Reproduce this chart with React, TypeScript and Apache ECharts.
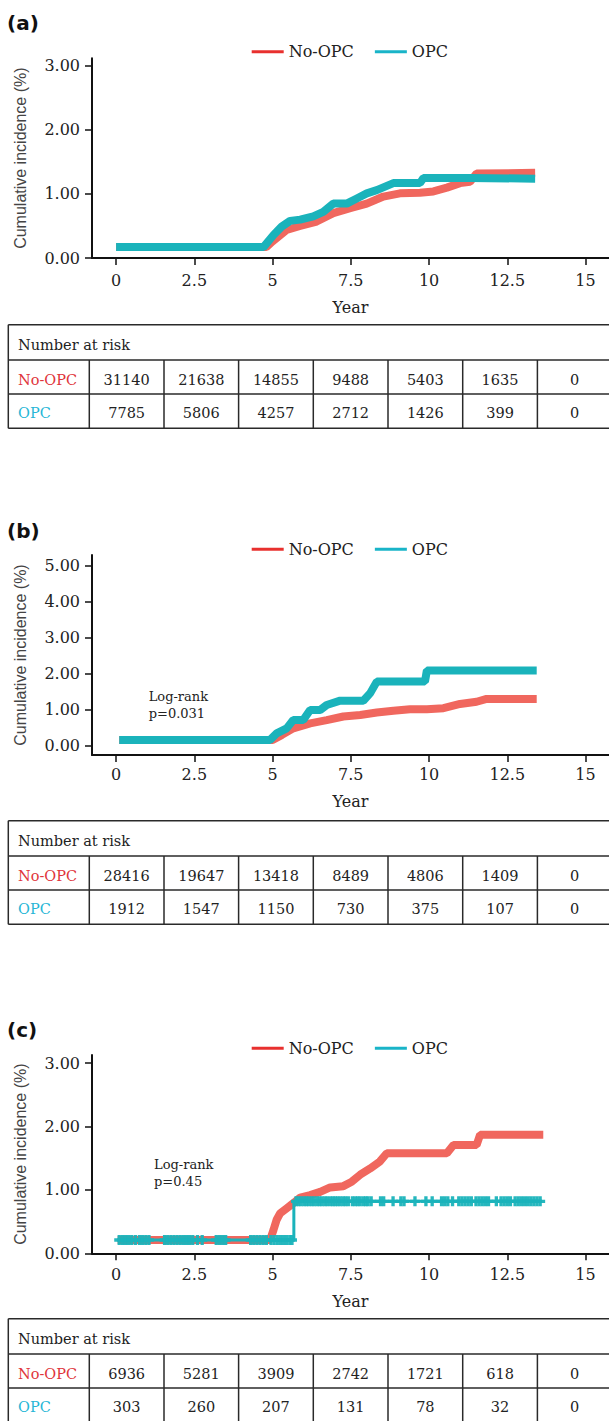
import React, { useEffect, useRef } from "react";
import * as echarts from "echarts";

// ---------- tick labels ----------
const xTicks = [0, 2.5, 5, 7.5, 10, 12.5, 15];
const yTicksA = [0, 1, 2, 3];
const yTicksB = [0, 1, 2, 3, 4, 5];
const yTicksC = [0, 1, 2, 3];

// ---------- series values [year, cumulative incidence %] ----------
const noOpcA = [[0, 0.17], [4.8, 0.17], [5.0, 0.26], [5.45, 0.44], [5.88, 0.5], [6.41, 0.57], [6.94, 0.7], [7.48, 0.78], [8.01, 0.85], [8.54, 0.96], [9.07, 1.01], [9.71, 1.02], [10.14, 1.04], [10.57, 1.1], [10.99, 1.17], [11.31, 1.19], [11.52, 1.32], [13.39, 1.33]];
const opcA = [[0, 0.17], [4.71, 0.17], [5.03, 0.36], [5.29, 0.49], [5.56, 0.58], [5.88, 0.6], [6.3, 0.65], [6.62, 0.72], [6.94, 0.85], [7.37, 0.85], [7.69, 0.93], [8.01, 1.01], [8.33, 1.06], [8.86, 1.17], [9.71, 1.17], [9.82, 1.25], [11.31, 1.25], [13.39, 1.24]];

const noOpcB = [[0.1, 0.16], [5.0, 0.16], [5.3, 0.3], [5.66, 0.48], [6.2, 0.62], [6.73, 0.71], [7.26, 0.81], [7.8, 0.85], [8.33, 0.92], [8.86, 0.97], [9.39, 1.01], [9.93, 1.01], [10.46, 1.04], [10.99, 1.16], [11.52, 1.22], [11.84, 1.3], [13.44, 1.3]];
const opcB = [[0.1, 0.16], [4.92, 0.16], [5.13, 0.34], [5.45, 0.48], [5.66, 0.71], [5.98, 0.71], [6.2, 0.99], [6.52, 0.99], [6.73, 1.13], [7.16, 1.25], [7.9, 1.25], [8.12, 1.46], [8.33, 1.78], [9.87, 1.78], [9.93, 2.09], [13.44, 2.09]];

const noOpcC = [[0.05, 0.21], [4.92, 0.21], [5.03, 0.37], [5.13, 0.53], [5.24, 0.63], [5.45, 0.71], [5.66, 0.79], [5.88, 0.88], [6.2, 0.92], [6.52, 0.97], [6.84, 1.04], [7.26, 1.06], [7.53, 1.13], [7.8, 1.24], [8.12, 1.34], [8.43, 1.45], [8.65, 1.58], [10.57, 1.58], [10.78, 1.71], [11.52, 1.71], [11.63, 1.87], [13.65, 1.87]];
const opcC = [[0.05, 0.21], [5.68, 0.21], [5.68, 0.82], [13.6, 0.82]];
const opcCensorC = [0.1, 0.2, 0.3, 0.4, 0.5, 0.62, 0.75, 0.85, 0.95, 1.05, 1.55, 1.65, 1.75, 1.85, 1.95, 2.05, 2.15, 2.25, 2.35, 2.45, 2.6, 2.75, 3.2, 3.3, 3.4, 3.5, 4.3, 4.4, 4.5, 4.6, 4.7, 4.8, 4.95, 5.05, 5.15, 5.25, 5.35, 5.45, 5.55, 5.62,
  5.75, 5.83, 5.91, 6.0, 6.08, 6.16, 6.25, 6.33, 6.42, 6.5, 6.58, 6.67, 6.75, 6.85, 6.93, 7.0, 7.08, 7.16, 7.25, 7.33, 7.42, 7.55, 7.64, 7.72, 7.8, 7.9, 7.98, 8.05, 8.15, 8.45, 8.55, 8.85, 9.1, 9.2, 9.55, 9.9, 10.1, 10.4, 10.5, 10.6, 10.75, 10.95, 11.05, 11.15, 11.25, 11.35, 11.5, 11.6, 11.7, 11.8, 11.9, 12.15, 12.3, 12.4, 12.5, 12.6, 12.75, 12.85, 12.95, 13.05, 13.15, 13.25, 13.35, 13.45, 13.55];

// ---------- number at risk ----------
const riskNoOpcA = [31140, 21638, 14855, 9488, 5403, 1635, 0];
const riskOpcA = [7785, 5806, 4257, 2712, 1426, 399, 0];
const riskNoOpcB = [28416, 19647, 13418, 8489, 4806, 1409, 0];
const riskOpcB = [1912, 1547, 1150, 730, 375, 107, 0];
const riskNoOpcC = [6936, 5281, 3909, 2742, 1721, 618, 0];
const riskOpcC = [303, 260, 207, 131, 78, 32, 0];

const pValueB = "p=0.031";
const pValueC = "p=0.45";

// ---------- styles ----------
const SERIF = "'DejaVu Serif', serif";
const SANS = "'Liberation Sans', Arial, sans-serif";
const RED_LINE = "#F0675E";
const TEAL_LINE = "#1AB3BB";
const RED_LEG = "#E8302E";
const TEAL_LEG = "#19B4C8";
const RED_TXT = "#E0353B";
const TEAL_TXT = "#26B6D6";
const AXIS = "#111";

const stepValue = (data: number[][], t: number) => {
  let v = data[0][1];
  for (const p of data) if (p[0] <= t) v = p[1];
  return v;
};

const panels = [
  { label: "(a)", labelY: 22.5, legendY: 51.7, top: 58.3, height: 199.7, yMin: 0, yMax: 3.12, yTicks: yTicksA, red: noOpcA, teal: opcA, lblMargin: 14, nameGap: 41, tableTop: 324.7, riskRed: riskNoOpcA, riskTeal: riskOpcA, logrank: null as any },
  { label: "(b)", labelY: 531, legendY: 549.3, top: 555, height: 200, yMin: -0.26, yMax: 5.3, yTicks: yTicksB, red: noOpcB, teal: opcB, lblMargin: 11, nameGap: 38, tableTop: 820.7, riskRed: riskNoOpcB, riskTeal: riskOpcB, logrank: { x: 148.7, y: 696, p: pValueB } },
  { label: "(c)", labelY: 1029.5, legendY: 1048.3, top: 1055, height: 198.3, yMin: 0, yMax: 3.13, yTicks: yTicksC, red: noOpcC, teal: opcC, lblMargin: 13, nameGap: 40, tableTop: 1318.7, riskRed: riskNoOpcC, riskTeal: riskOpcC, logrank: { x: 154, y: 1164, p: pValueC } },
];

const colX = [89.3, 164, 238.6, 313.3, 388, 462.7, 537.4, 612];

function buildOption() {
  const grid: any[] = [];
  const xAxis: any[] = [];
  const yAxis: any[] = [];
  const series: any[] = [];
  const legend: any[] = [];
  const graphic: any[] = [];

  panels.forEach((p, i) => {
    grid.push({ left: 92, right: 0, top: p.top, height: p.height, containLabel: false });
    xAxis.push({
      gridIndex: i, type: "value", min: -0.77, max: 15.75,
      axisLine: { show: true, onZero: false, lineStyle: { color: AXIS, width: 2 } },
      axisTick: { show: true, length: 7, customValues: xTicks, lineStyle: { color: AXIS, width: 1.5 } },
      axisLabel: { customValues: xTicks, formatter: (v: number) => String(v), margin: p.lblMargin, fontFamily: SERIF, fontSize: 16, color: "#222" },
      splitLine: { show: false },
      name: "Year", nameLocation: "middle", nameGap: p.nameGap,
      nameTextStyle: { fontFamily: SERIF, fontSize: 16, color: "#222" },
    });
    yAxis.push({
      gridIndex: i, type: "value", min: p.yMin, max: p.yMax,
      axisLine: { show: true, onZero: false, lineStyle: { color: AXIS, width: 2 } },
      axisTick: { show: true, length: 7, customValues: p.yTicks, lineStyle: { color: AXIS, width: 1.5 } },
      axisLabel: { customValues: p.yTicks, formatter: (v: number) => v.toFixed(2), margin: 12, fontFamily: SERIF, fontSize: 16, color: "#222" },
      splitLine: { show: false },
      name: "Cumulative incidence (%)", nameLocation: "middle", nameGap: 64,
      nameTextStyle: { fontFamily: SANS, fontSize: 16, color: "#444" },
    });
    series.push({
      name: "No-OPC", type: "line", xAxisIndex: i, yAxisIndex: i, data: p.red, showSymbol: false,
      lineStyle: { color: RED_LINE, width: 8 }, itemStyle: { color: RED_LEG }, z: 2,
    });
    series.push({
      name: "OPC", type: "line", xAxisIndex: i, yAxisIndex: i, data: p.teal, showSymbol: false,
      lineStyle: { color: TEAL_LINE, width: i === 2 ? 3 : 8 }, itemStyle: { color: TEAL_LEG }, z: 3,
    });
    if (i === 2) {
      series.push({
        name: "OPC censored", type: "scatter", xAxisIndex: i, yAxisIndex: i,
        data: opcCensorC.map((t) => [t, stepValue(opcC, t)]),
        symbol: "path://M3,0L6,0L6,3L9,3L9,6L6,6L6,9L3,9L3,6L0,6L0,3L3,3Z",
        symbolSize: 10, itemStyle: { color: TEAL_LINE, opacity: 0.95 }, z: 4,
      });
    }
    legend.push({
      left: 251.7, top: p.legendY - 8, padding: 0, itemWidth: 32, itemHeight: 3, itemGap: 21,
      icon: "rect", selectedMode: false,
      textStyle: { fontFamily: SERIF, fontSize: 16, color: "#222" },
      data: [{ name: "No-OPC", itemStyle: { color: RED_LEG } }, { name: "OPC", itemStyle: { color: TEAL_LEG } }],
    });

    // panel label
    graphic.push({ type: "text", x: 7, y: p.labelY, style: { text: p.label, fontFamily: "'DejaVu Sans', sans-serif", fontWeight: "bold", fontSize: 20, fill: "#111", verticalAlign: "middle" } });
    if (p.logrank) {
      graphic.push({ type: "text", x: p.logrank.x, y: p.logrank.y, style: { text: "Log-rank", fontFamily: SERIF, fontSize: 13, fill: "#222", verticalAlign: "middle" } });
      graphic.push({ type: "text", x: p.logrank.x, y: p.logrank.y + 17.5, style: { text: p.logrank.p, fontFamily: SERIF, fontSize: 13, fill: "#222", verticalAlign: "middle" } });
    }

    // table
    const T = p.tableTop;
    const rows = [T, T + 35.3, T + 69.3, T + 103.6];
    const ls = { stroke: "#2a2a2a", lineWidth: 1.5 };
    rows.forEach((ry) => graphic.push({ type: "line", shape: { x1: 8.3, y1: ry, x2: 612, y2: ry }, style: ls }));
    graphic.push({ type: "line", shape: { x1: 8.3, y1: T, x2: 8.3, y2: rows[3] }, style: ls });
    colX.slice(0, 7).forEach((cx) => graphic.push({ type: "line", shape: { x1: cx, y1: rows[1], x2: cx, y2: rows[3] }, style: ls }));
    const tstyle = { fontFamily: SERIF, fontSize: 14.5, verticalAlign: "middle" };
    graphic.push({ type: "text", x: 18, y: T + 20.3, style: { ...tstyle, text: "Number at risk", fill: "#222" } });
    graphic.push({ type: "text", x: 18, y: T + 55, style: { ...tstyle, text: "No-OPC", fill: RED_TXT } });
    graphic.push({ type: "text", x: 18, y: T + 88.5, style: { ...tstyle, text: "OPC", fill: TEAL_TXT } });
    p.riskRed.forEach((v, k) => graphic.push({ type: "text", x: (colX[k] + colX[k + 1]) / 2, y: T + 55, style: { ...tstyle, text: String(v), fill: "#222", align: "center" } }));
    p.riskTeal.forEach((v, k) => graphic.push({ type: "text", x: (colX[k] + colX[k + 1]) / 2, y: T + 88.5, style: { ...tstyle, text: String(v), fill: "#222", align: "center" } }));
  });

  return { animation: false, backgroundColor: "#fff", grid, xAxis, yAxis, series, legend, graphic };
}

export default function App() {
  const ref = useRef<HTMLDivElement>(null);
  useEffect(() => {
    if (!ref.current) return;
    const chart = echarts.init(ref.current, null, { renderer: "svg" });
    chart.setOption(buildOption());
    return () => chart.dispose();
  }, []);
  return <div ref={ref} style={{ position: "absolute", left: 0, top: 0, width: 609, height: 1421 }} />;
}
